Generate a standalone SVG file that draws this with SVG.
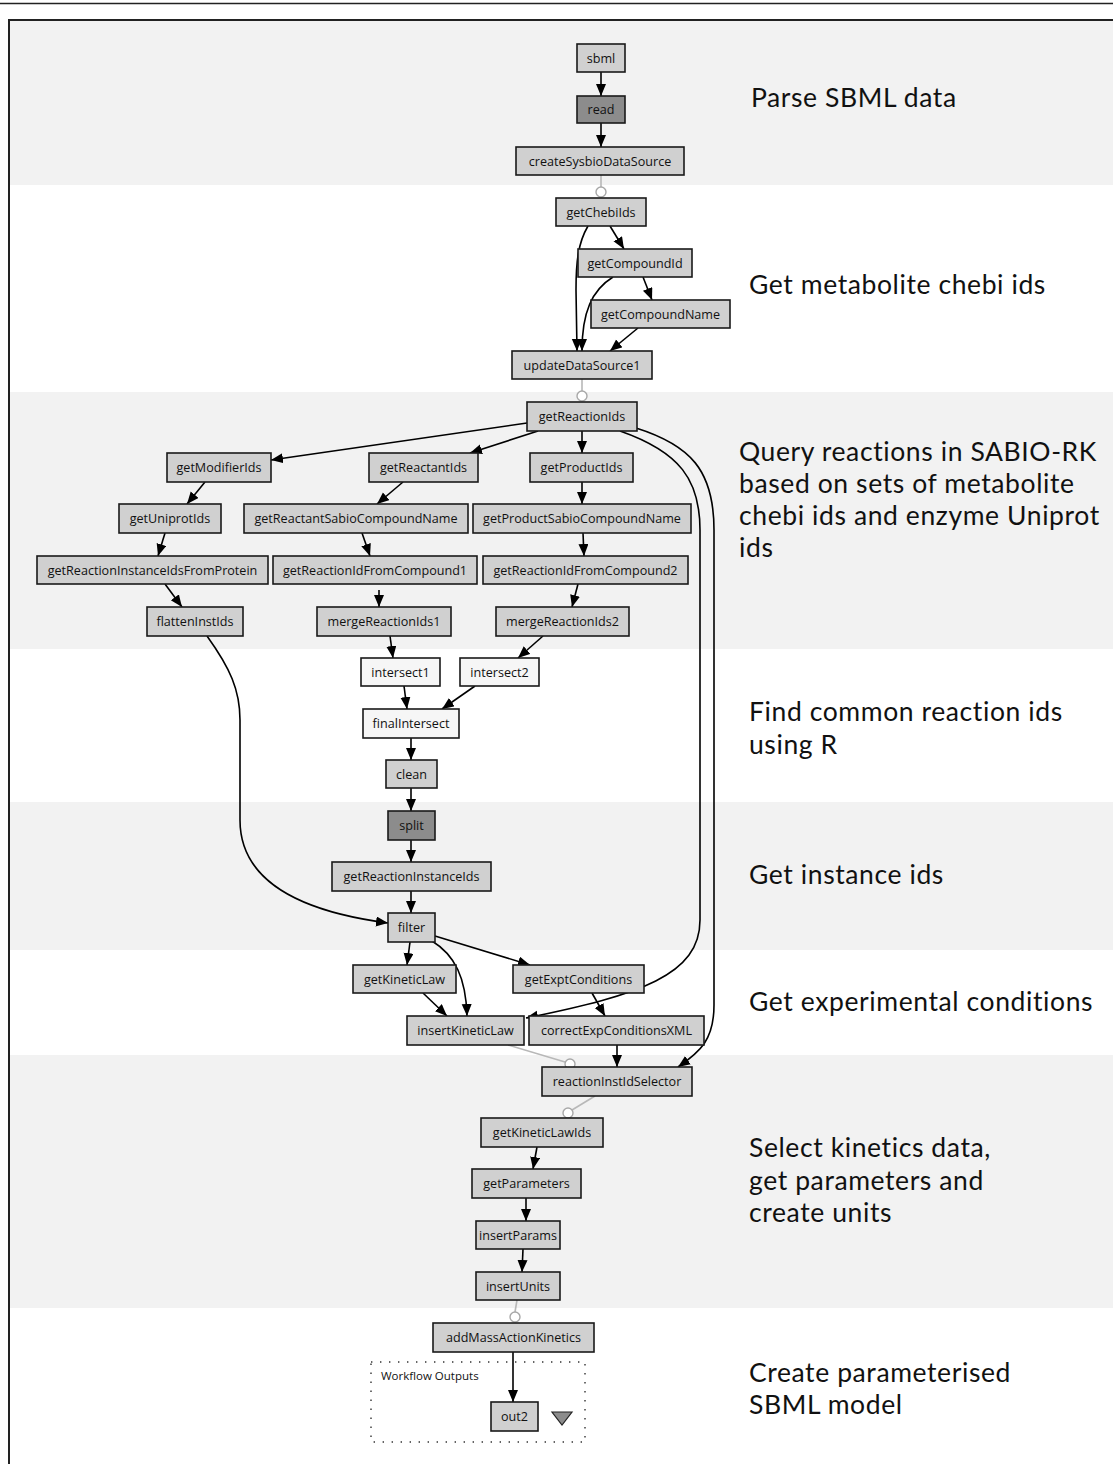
<svg xmlns="http://www.w3.org/2000/svg" width="1113" height="1464" viewBox="0 0 1113 1464">
<style>
.band{fill:#f2f2f2}
.n rect{fill:#d0d0d0;stroke:#1a1a1a;stroke-width:1.6}
.n.dark rect{fill:#8c8c8c}
.n.light rect{fill:#f6f6f6}
.n text{font-family:"Open Sans","Liberation Sans",sans-serif;font-size:12.6px;fill:#111;text-anchor:middle}
.e{fill:none;stroke:#000;stroke-width:1.6}
.a{marker-end:url(#ah)}
.g{fill:none;stroke:#b8b8b8;stroke-width:1.6}
.gc{fill:#fff;stroke:#a8a8a8;stroke-width:1.4}
.lab{font-family:Lato,"Open Sans",sans-serif;font-size:26.5px;letter-spacing:0.6px;fill:#111}
</style>
<defs>
<marker id="ah" markerUnits="userSpaceOnUse" markerWidth="13" markerHeight="11" refX="12" refY="5" orient="auto">
<path d="M0,0 L12,5 L0,10 z" fill="#000"/>
</marker>
</defs>
<rect x="0" y="0" width="1113" height="1464" fill="#fff"/>
<line x1="0" y1="3.5" x2="1113" y2="3.5" stroke="#222" stroke-width="1.5"/>
<g id="bands">
<rect class="band" x="9" y="20" width="1104" height="165"/>
<rect class="band" x="9" y="392" width="1104" height="257"/>
<rect class="band" x="9" y="802" width="1104" height="148"/>
<rect class="band" x="9" y="1055" width="1104" height="253"/>
</g>
<path d="M9,1464 L9,20 L1113,20" fill="none" stroke="#222" stroke-width="2"/>

<g id="labels">
<text class="lab" x="751" y="107">Parse SBML data</text>
<text class="lab" x="749" y="294">Get metabolite chebi ids</text>
<text class="lab" x="739" y="461">Query reactions in SABIO-RK</text>
<text class="lab" x="739" y="493">based on sets of metabolite</text>
<text class="lab" x="739" y="525">chebi ids and enzyme Uniprot</text>
<text class="lab" x="739" y="557">ids</text>
<text class="lab" x="749" y="721">Find common reaction ids</text>
<text class="lab" x="749" y="754">using R</text>
<text class="lab" x="749" y="884">Get instance ids</text>
<text class="lab" x="749" y="1011">Get experimental conditions</text>
<text class="lab" x="749" y="1157">Select kinetics data,</text>
<text class="lab" x="749" y="1190">get parameters and</text>
<text class="lab" x="749" y="1222">create units</text>
<text class="lab" x="749" y="1382">Create parameterised</text>
<text class="lab" x="749" y="1414">SBML model</text>
</g>

<g id="outputs-box">
<rect x="371" y="1362" width="214" height="80" fill="none" stroke="#333" stroke-width="1.4" stroke-dasharray="1.4 7.6"/>
<text x="381" y="1380" font-family="Open Sans, Liberation Sans, sans-serif" font-size="11.5" fill="#111">Workflow Outputs</text>
<polygon points="552,1412 572,1412 562,1425" fill="#8c8c8c" stroke="#222" stroke-width="1.2"/>
</g>

<g id="connectors">
<line class="e a" x1="601" y1="72" x2="601" y2="96"/>
<line class="e a" x1="601" y1="123" x2="601" y2="147"/>
<line class="g" x1="601" y1="175" x2="601" y2="187"/>
<circle class="gc" cx="601" cy="192" r="5"/>
<line class="e a" x1="610" y1="226" x2="624" y2="249"/>
<path class="e a" d="M588,226 C578,243 576,262 576,290 L577,351"/>
<line class="e a" x1="643" y1="277" x2="652" y2="300"/>
<path class="e a" d="M613,277 C592,290 582,312 582,351"/>
<line class="e a" x1="638" y1="328" x2="610" y2="351"/>
<line class="g" x1="582" y1="379" x2="582" y2="391"/>
<circle class="gc" cx="582" cy="396" r="5"/>
<line class="e a" x1="527" y1="423" x2="271" y2="460"/>
<line class="e a" x1="538" y1="431" x2="470" y2="453"/>
<line class="e a" x1="582" y1="431" x2="582" y2="453"/>
<line class="e a" x1="205" y1="482" x2="187" y2="504"/>
<line class="e a" x1="403" y1="482" x2="377" y2="504"/>
<line class="e a" x1="582" y1="482" x2="582" y2="504"/>
<line class="e a" x1="165" y1="533" x2="158" y2="556"/>
<line class="e a" x1="362" y1="533" x2="370" y2="556"/>
<line class="e a" x1="583" y1="533" x2="584" y2="556"/>
<line class="e a" x1="165" y1="584" x2="182" y2="607"/>
<line class="e a" x1="379" y1="590" x2="379" y2="607"/>
<line class="e a" x1="578" y1="584" x2="572" y2="607"/>
<line class="e a" x1="390" y1="636" x2="393" y2="658"/>
<line class="e a" x1="543" y1="636" x2="518" y2="658"/>
<line class="e a" x1="404" y1="686" x2="407" y2="709"/>
<line class="e a" x1="475" y1="686" x2="442" y2="709"/>
<line class="e a" x1="411" y1="738" x2="411" y2="760"/>
<line class="e a" x1="411" y1="788" x2="411" y2="811"/>
<line class="e a" x1="411" y1="840" x2="411" y2="862"/>
<line class="e a" x1="411" y1="891" x2="411" y2="913"/>
<path class="e a" d="M207,636 C230,668 240,690 240,720 L240,820 C240,890 320,914 388,923"/>
<line class="e a" x1="410" y1="942" x2="407" y2="965"/>
<path class="e a" d="M432,941 C455,955 466,978 467,1016"/>
<line class="e a" x1="435" y1="936" x2="530" y2="965"/>
<line class="e a" x1="423" y1="993" x2="447" y2="1016"/>
<line class="e a" x1="592" y1="993" x2="605" y2="1016"/>
<line class="e a" x1="617" y1="1045" x2="617" y2="1067"/>
<path class="e a" d="M620,431 C680,452 700,480 700,530 L700,920 C700,975 640,995 526,1018"/>
<path class="e a" d="M636,428 C690,445 714,470 714,530 L714,1005 C714,1040 700,1052 678,1067"/>
<line class="g" x1="508" y1="1045" x2="565" y2="1062"/>
<circle class="gc" cx="570" cy="1064" r="5"/>
<line class="g" x1="595" y1="1096" x2="572" y2="1110"/>
<circle class="gc" cx="568" cy="1113" r="5"/>
<line class="e a" x1="537" y1="1147" x2="533" y2="1169"/>
<line class="e a" x1="526" y1="1198" x2="526" y2="1221"/>
<line class="e a" x1="523" y1="1249" x2="522" y2="1272"/>
<line class="g" x1="517" y1="1300" x2="515" y2="1312"/>
<circle class="gc" cx="515" cy="1317" r="5"/>
<line class="e a" x1="513" y1="1352" x2="513" y2="1402"/>
</g>

<g id="n-sbml" class="n"><rect x="577" y="44" width="48" height="28"/><text x="601" y="62.5">sbml</text></g>
<g id="n-read" class="n dark"><rect x="577" y="96" width="48" height="27"/><text x="601" y="114">read</text></g>
<g id="n-createSysbioDataSource" class="n"><rect x="516" y="147" width="168" height="28"/><text x="600" y="165.5">createSysbioDataSource</text></g>
<g id="n-getChebiIds" class="n"><rect x="556" y="198" width="90" height="28"/><text x="601" y="216.5">getChebiIds</text></g>
<g id="n-getCompoundId" class="n"><rect x="578" y="249" width="114" height="28"/><text x="635" y="267.5">getCompoundId</text></g>
<g id="n-getCompoundName" class="n"><rect x="591" y="300" width="139" height="28"/><text x="660.5" y="318.5">getCompoundName</text></g>
<g id="n-updateDataSource1" class="n"><rect x="512" y="351" width="140" height="28"/><text x="582" y="369.5">updateDataSource1</text></g>
<g id="n-getReactionIds" class="n"><rect x="527" y="402" width="110" height="29"/><text x="582" y="421">getReactionIds</text></g>
<g id="n-getModifierIds" class="n"><rect x="167" y="453" width="104" height="29"/><text x="219" y="472">getModifierIds</text></g>
<g id="n-getReactantIds" class="n"><rect x="369" y="453" width="109" height="29"/><text x="423.5" y="472">getReactantIds</text></g>
<g id="n-getProductIds" class="n"><rect x="530" y="453" width="103" height="29"/><text x="581.5" y="472">getProductIds</text></g>
<g id="n-getUniprotIds" class="n"><rect x="119" y="504" width="102" height="29"/><text x="170" y="523">getUniprotIds</text></g>
<g id="n-getReactantSabioCompoundName" class="n"><rect x="244" y="504" width="224" height="29"/><text x="356" y="523">getReactantSabioCompoundName</text></g>
<g id="n-getProductSabioCompoundName" class="n"><rect x="473" y="504" width="218" height="29"/><text x="582" y="523">getProductSabioCompoundName</text></g>
<g id="n-getReactionInstanceIdsFromProtein" class="n"><rect x="37" y="556" width="231" height="28"/><text x="152.5" y="574.5">getReactionInstanceIdsFromProtein</text></g>
<g id="n-getReactionIdFromCompound1" class="n"><rect x="273" y="556" width="204" height="28"/><text x="375" y="574.5">getReactionIdFromCompound1</text></g>
<g id="n-getReactionIdFromCompound2" class="n"><rect x="483" y="556" width="205" height="28"/><text x="585.5" y="574.5">getReactionIdFromCompound2</text></g>
<g id="n-flattenInstIds" class="n"><rect x="147" y="607" width="96" height="29"/><text x="195" y="626">flattenInstIds</text></g>
<g id="n-mergeReactionIds1" class="n"><rect x="317" y="607" width="134" height="29"/><text x="384" y="626">mergeReactionIds1</text></g>
<g id="n-mergeReactionIds2" class="n"><rect x="496" y="607" width="133" height="29"/><text x="562.5" y="626">mergeReactionIds2</text></g>
<g id="n-intersect1" class="n light"><rect x="361" y="658" width="79" height="28"/><text x="400.5" y="676.5">intersect1</text></g>
<g id="n-intersect2" class="n light"><rect x="460" y="658" width="79" height="28"/><text x="499.5" y="676.5">intersect2</text></g>
<g id="n-finalIntersect" class="n light"><rect x="363" y="709" width="96" height="29"/><text x="411" y="728">finalIntersect</text></g>
<g id="n-clean" class="n"><rect x="386" y="760" width="51" height="28"/><text x="411.5" y="778.5">clean</text></g>
<g id="n-split" class="n dark"><rect x="388" y="811" width="47" height="29"/><text x="411.5" y="830">split</text></g>
<g id="n-getReactionInstanceIds" class="n"><rect x="332" y="862" width="159" height="29"/><text x="411.5" y="881">getReactionInstanceIds</text></g>
<g id="n-filter" class="n"><rect x="388" y="913" width="47" height="29"/><text x="411.5" y="932">filter</text></g>
<g id="n-getKineticLaw" class="n"><rect x="353" y="965" width="103" height="28"/><text x="404.5" y="983.5">getKineticLaw</text></g>
<g id="n-getExptConditions" class="n"><rect x="513" y="965" width="131" height="28"/><text x="578.5" y="983.5">getExptConditions</text></g>
<g id="n-insertKineticLaw" class="n"><rect x="407" y="1016" width="117" height="29"/><text x="465.5" y="1035">insertKineticLaw</text></g>
<g id="n-correctExpConditionsXML" class="n"><rect x="529" y="1016" width="175" height="29"/><text x="616.5" y="1035">correctExpConditionsXML</text></g>
<g id="n-reactionInstIdSelector" class="n"><rect x="542" y="1067" width="150" height="29"/><text x="617" y="1086">reactionInstIdSelector</text></g>
<g id="n-getKineticLawIds" class="n"><rect x="481" y="1118" width="122" height="29"/><text x="542" y="1137">getKineticLawIds</text></g>
<g id="n-getParameters" class="n"><rect x="472" y="1169" width="109" height="29"/><text x="526.5" y="1188">getParameters</text></g>
<g id="n-insertParams" class="n"><rect x="476" y="1221" width="84" height="28"/><text x="518" y="1239.5">insertParams</text></g>
<g id="n-insertUnits" class="n"><rect x="476" y="1272" width="84" height="28"/><text x="518" y="1290.5">insertUnits</text></g>
<g id="n-addMassActionKinetics" class="n"><rect x="433" y="1323" width="161" height="29"/><text x="513.5" y="1342">addMassActionKinetics</text></g>
<g id="n-out2" class="n"><rect x="491" y="1402" width="47" height="29"/><text x="514.5" y="1421">out2</text></g>
</svg>
